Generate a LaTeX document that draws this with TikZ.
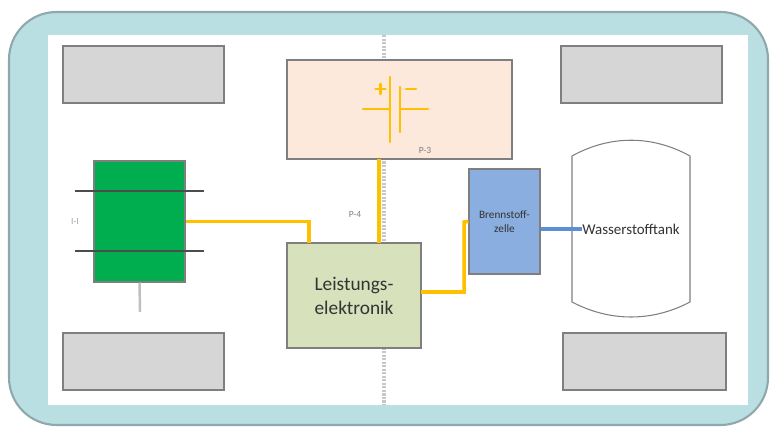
\documentclass[tikz,border=0pt]{standalone}
\usepackage{fontspec}
\setmainfont{Carlito}
\usepackage{tikz}
\usetikzlibrary{positioning,calc}
\definecolor{framefill}{HTML}{B9DFE3}
\definecolor{framedraw}{HTML}{8FA8AB}
\definecolor{wheelfill}{HTML}{D6D6D6}
\definecolor{battfill}{HTML}{FCE9DB}
\definecolor{motorfill}{HTML}{00AE50}
\definecolor{powerfill}{HTML}{D7E2BC}
\definecolor{cellfill}{HTML}{8AAEE0}
\definecolor{busline}{HTML}{FFC000}
\definecolor{h2line}{HTML}{5B8FD6}
\definecolor{edgegray}{HTML}{7F7F7F}
\tikzset{
	block/.style={
		rectangle,
		draw=edgegray,
		line width=0.6pt,
		inner sep=0pt,
		align=center,
	},
	wheel/.style={block, fill=wheelfill, minimum width=3.22cm, minimum height=1.14cm},
	tag/.style={text=gray, font=\fontsize{5.4}{6}\selectfont, inner sep=0pt},
	bus/.style={draw=busline, line width=2pt},
	axle/.style={draw=black!70, line width=0.6pt},
}
\begin{document}
\begin{tikzpicture}[x=0.02cm, y=-0.02cm]
\useasboundingbox (0,0) rectangle (777,431);

\draw[fill=framefill, draw=framedraw, line width=1.2pt, rounded corners=0.95cm] (9,12) rectangle (768,425);
\fill[white] (48,35) rectangle (748,405);

% centre line
\draw[gray!45, line width=2.2pt, dash pattern=on 1.2pt off 0.8pt] (384,35) -- (384,405);

\node[wheel] (wheelfl) at (143.5,74.5) {};
\node[wheel] (wheelfr) at (641.5,74.5) {};
\node[wheel] (wheelrl) at (143.5,361.5) {};
\node[wheel, minimum width=3.26cm] (wheelrr) at (644.5,361.5) {};

\node[block, fill=battfill, minimum width=4.5cm, minimum height=1.98cm] (batt) at (399.5,109.5) {};
\node[block, fill=motorfill, minimum width=1.82cm, minimum height=2.42cm] (motor) at (139.5,221.5) {};
\node[block, fill=powerfill, minimum width=2.68cm, minimum height=2.1cm, text=black!80, font=\fontsize{11}{13.6}\selectfont] (power) at (354,295.5) {Leistungs-\\elektronik};
\node[block, fill=cellfill, minimum width=1.42cm, minimum height=2.1cm, text=black!80, font=\fontsize{6.4}{8}\selectfont] (cell) at (504.5,221.5) {Brennstoff-\\zelle};

% tank
\draw[draw=gray, line width=0.6pt] (572,156) .. controls (610,135) and (652,135) .. (690,156)
	-- (690,302) .. controls (652,322) and (610,322) .. (572,302) -- cycle;
\node[inner sep=0pt, text=black!80, font=\fontsize{8.5}{10}\selectfont] (tank) at (631,229) {Wasserstofftank};

% axles
\coordinate (axleAw) at (75,191);
\coordinate (axleAe) at (204,191);
\coordinate (axleBw) at (75,251);
\coordinate (axleBe) at (204,251);
\coordinate (stubend) at (140,312);
\draw[axle] (axleAw) -- (axleAe);
\draw[axle] (axleBw) -- (axleBe);
\draw[draw=gray!50, line width=1.4pt] (motor.south) -- (stubend);

% connections
\coordinate (powerin) at (309,243);
\coordinate (battout) at (379,159);
\coordinate (powertop) at (379,243);
\coordinate (powerout) at (421,292);
\draw[bus] (motor.east) -| (powerin);
\draw[bus] (battout) -- (powertop);
\draw[bus] (powerout) -| (464,222) -- (cell.west);
\draw[draw=h2line, line width=2.2pt] (cell.east |- tank) -- (tank.west);

% battery symbol
\draw[busline, line width=1.5pt, line cap=round]
	(363,109) -- (390,109) (390,77) -- (390,142)
	(400,87) -- (400,132) (400,109) -- (428,109)
	(375.5,89) -- (385.5,89) (380.5,84) -- (380.5,94)
	(406,89) -- (416,89);

% labels
\node[tag] (labelthree) at (425,150) {P-3};
\node[tag] (labelfour) at (355,214) {P-4};
\node[tag, text=gray!70] (labelone) at (75,221) {I-I};
\end{tikzpicture}
\end{document}
